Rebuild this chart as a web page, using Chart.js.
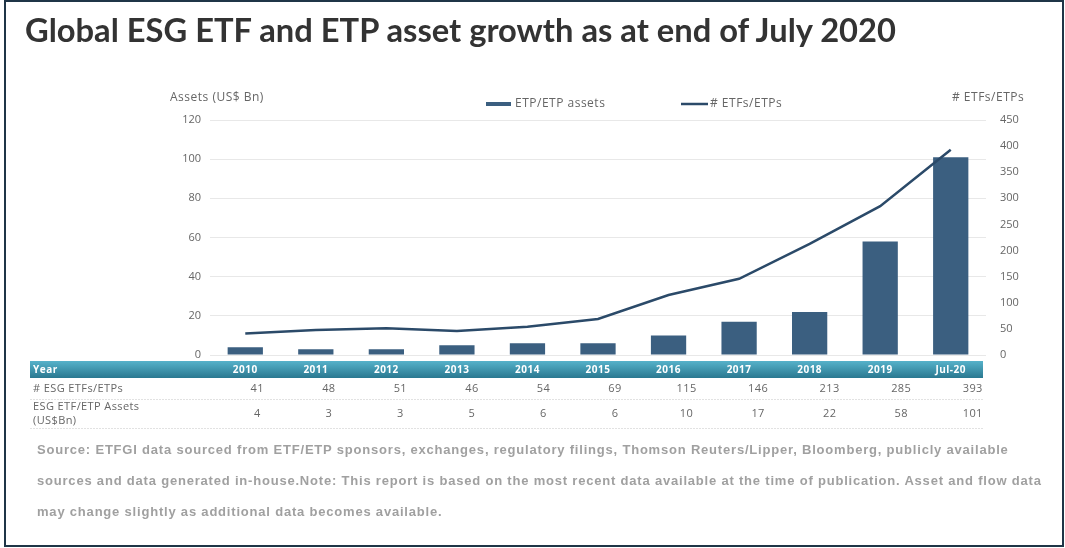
<!DOCTYPE html>
<html>
<head>
<meta charset="utf-8">
<script src="https://cdn.jsdelivr.net/npm/chart.js@4"></script>
<style>
  html, body { margin: 0; padding: 0; background: #fff; }
  #wrap { position: relative; width: 1065px; height: 548px; overflow: hidden; }
  #frame { position: absolute; left: 4px; top: 0; width: 1060px; height: 547px; border: 2px solid #1f3547; box-sizing: border-box; }
  #title { position: absolute; left: 25px; top: 10px; font: bold 32.7px Lato, sans-serif; color: #333; white-space: nowrap; }
  #source { position: absolute; left: 37px; top: 434px; width: 1015px; font: bold 13px "Liberation Sans", Arial, sans-serif; letter-spacing: 0.8px; line-height: 31px; color: #a0a0a0; }
  canvas { position: absolute; left: 0; top: 0; }
</style>
</head>
<body>
<div id="wrap">
  <canvas id="myChart" width="1065" height="548"></canvas>
  <div id="frame"></div>
  <div id="title">Global ESG ETF and ETP asset growth as at end of July 2020</div>
  <div id="source">Source: ETFGI data sourced from ETF/ETP sponsors, exchanges, regulatory filings, Thomson Reuters/Lipper, Bloomberg, publicly available sources and data generated in-house.Note: This report is based on the most recent data available at the time of publication. Asset and flow data may change slightly as additional data becomes available.</div>
</div>
<script>
// data
var years = ['2010', '2011', '2012', '2013', '2014', '2015', '2016', '2017', '2018', '2019', 'Jul-20'];
var etfCounts = [41, 48, 51, 46, 54, 69, 115, 146, 213, 285, 393];
var etfAssets = [4, 3, 3, 5, 6, 6, 10, 17, 22, 58, 101];

var barColor = '#3b5f80';
var lineColor = '#2b4a69';
var textGray = '#666';

// legend, axis titles and the data table under the chart
var tablePlugin = {
  id: 'table',
  afterDraw: function (chart) {
    var c = chart.ctx;
    var x = chart.scales.x;
    c.save();
    c.textBaseline = 'middle';
    c.font = '12px "Open Sans", sans-serif';
    c.letterSpacing = '0.5px';
    c.fillStyle = textGray;
    c.textAlign = 'left';
    c.fillText('Assets (US$ Bn)', 170, 98);
    c.fillText('# ETFs/ETPs', 952, 98);

    // legend
    c.fillStyle = barColor;
    c.fillRect(486, 102, 25, 4);
    c.fillStyle = textGray;
    c.fillText('ETP/ETP assets', 515, 104);
    c.strokeStyle = lineColor;
    c.lineWidth = 2.5;
    c.beginPath();
    c.moveTo(681, 104);
    c.lineTo(708, 104);
    c.stroke();
    c.fillText('# ETFs/ETPs', 710, 104);

    // year band
    var g = c.createLinearGradient(0, 361, 0, 378);
    g.addColorStop(0, '#56b2ca');
    g.addColorStop(1, '#2a7890');
    c.fillStyle = g;
    c.fillRect(30, 361, 953, 17);
    c.fillStyle = '#fff';
    c.font = 'bold 10px "Open Sans", sans-serif';
    c.fillText('Year', 33, 370);
    c.textAlign = 'center';
    years.forEach(function (y, i) {
      c.fillText(y, x.getPixelForValue(i), 370);
    });

    // rows
    c.font = '11px "Open Sans", sans-serif';
    c.letterSpacing = '0.4px';
    c.fillStyle = textGray;
    c.textAlign = 'left';
    c.fillText('# ESG ETFs/ETPs', 33, 389);
    c.fillText('ESG ETF/ETP Assets', 33, 407);
    c.fillText('(US$Bn)', 33, 421);
    c.textAlign = 'center';
    etfCounts.forEach(function (v, i) {
      c.fillText(String(v), x.getPixelForValue(i) + 12 + i, 389);
    });
    etfAssets.forEach(function (v, i) {
      c.fillText(String(v), x.getPixelForValue(i) + 12 + i, 414);
    });

    c.strokeStyle = '#e2e2e2';
    c.lineWidth = 1;
    c.setLineDash([2, 1]);
    c.beginPath();
    c.moveTo(30, 399.5); c.lineTo(983, 399.5);
    c.moveTo(30, 428.5); c.lineTo(983, 428.5);
    c.stroke();
    c.restore();
  }
};

var ctx = document.getElementById('myChart').getContext('2d');
var myChart = new Chart(ctx, {
  data: {
    labels: years,
    datasets: [{
      type: 'line',
      label: '# ETFs/ETPs',
      data: etfCounts,
      yAxisID: 'y2',
      borderColor: lineColor,
      borderWidth: 2.5,
      pointRadius: 0,
      tension: 0,
      order: 0
    }, {
      type: 'bar',
      label: 'ETP/ETP assets',
      data: etfAssets,
      yAxisID: 'y',
      backgroundColor: barColor,
      barPercentage: 0.5,
      categoryPercentage: 1,
      order: 1
    }]
  },
  options: {
    responsive: false,
    animation: false,
    layout: { padding: { left: 160, right: 39, top: 120, bottom: 193 } },
    plugins: { legend: { display: false }, tooltip: { enabled: false } },
    scales: {
      x: { display: false },
      y: {
        position: 'left',
        min: 0, max: 120,
        ticks: { stepSize: 20, color: textGray, padding: 9, font: { family: 'Open Sans', size: 11 } },
        grid: { color: '#e8e8e8', drawTicks: false },
        border: { display: false },
        afterFit: function (s) { s.width = 50; }
      },
      y2: {
        position: 'right',
        min: 0, max: 450,
        ticks: { stepSize: 50, color: textGray, padding: 14, font: { family: 'Open Sans', size: 11 } },
        grid: { drawOnChartArea: false, drawTicks: false },
        border: { display: false },
        afterFit: function (s) { s.width = 40; }
      }
    }
  },
  plugins: [tablePlugin]
});
</script>
</body>
</html>
